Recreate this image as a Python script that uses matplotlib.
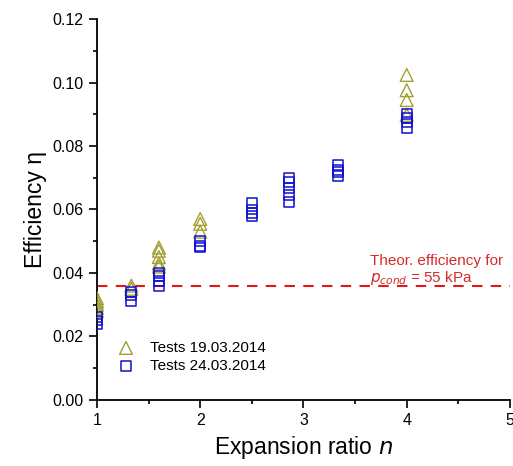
import numpy as np
import matplotlib
matplotlib.use("Agg")
import matplotlib.pyplot as plt
from matplotlib.ticker import MultipleLocator

plt.rcParams['font.family'] = ['Liberation Sans', 'DejaVu Sans']

# tests 19.03.2014 (triangles)
n_tri = [1, 1, 1, 1, 1, 4/3, 4/3, 1.6, 1.6, 1.6, 1.6, 1.6, 2, 2, 2, 4, 4, 4, 4]
eta_tri = [0.032, 0.031, 0.030, 0.029, 0.028, 0.036, 0.035,
           0.048, 0.047, 0.045, 0.043, 0.042, 0.057, 0.0555, 0.053,
           0.1024, 0.0976, 0.0945, 0.0898]

# tests 24.03.2014 (squares)
n_sq = [1, 1, 1, 4/3, 4/3, 4/3, 1.6, 1.6, 1.6, 1.6, 2, 2, 2,
        2.5, 2.5, 2.5, 2.5, 20/7, 20/7, 20/7, 20/7, 20/7,
        10/3, 10/3, 10/3, 10/3, 4, 4, 4, 4]
eta_sq = [0.026, 0.025, 0.024, 0.034, 0.033, 0.031,
          0.040, 0.039, 0.0375, 0.036, 0.050, 0.0485, 0.048,
          0.062, 0.060, 0.059, 0.058, 0.070, 0.0687, 0.0668, 0.0646, 0.0624,
          0.074, 0.0724, 0.0717, 0.0706, 0.090, 0.0888, 0.0876, 0.0857]

eta_theor = 0.036

fig = plt.figure(figsize=(5.13, 4.66), dpi=100)
ax = fig.add_axes([0.189, 0.142, 0.805, 0.817])

ax.scatter(n_tri, eta_tri, marker='^', s=85, facecolors='none',
           edgecolors='#a3a030', linewidths=1.0, label='Tests 19.03.2014', zorder=3)
ax.scatter(n_sq, eta_sq, marker='s', s=50, facecolors='none',
           edgecolors='#1010d0', linewidths=1.1, label='Tests 24.03.2014', zorder=3)
ax.axhline(eta_theor, color='#e01818', linestyle=(0, (5, 4)), linewidth=1.5, zorder=2)

# annotation for the theoretical line
ax.text(3.64, 0.0425, 'Theor. efficiency for', color='#d42a2a', fontsize=11)
ax.text(3.64, 0.0372, r'$p_{cond}$ = 55 kPa', color='#d42a2a', fontsize=11)

ax.set_xlim(1, 5)
ax.set_ylim(0, 0.12)
ax.xaxis.set_major_locator(MultipleLocator(1))
ax.xaxis.set_minor_locator(MultipleLocator(0.5))
ax.yaxis.set_major_locator(MultipleLocator(0.02))
ax.yaxis.set_minor_locator(MultipleLocator(0.01))
ax.set_yticklabels(['%.2f' % v for v in ax.get_yticks()])
ax.tick_params(which='major', direction='out', length=6, width=1.2, labelsize=11.5)
ax.tick_params(which='minor', direction='out', length=3, width=1.2)
ax.spines['top'].set_visible(False)
ax.spines['right'].set_visible(False)
ax.spines['left'].set_linewidth(1.3)
ax.spines['bottom'].set_linewidth(1.3)

ax.set_xlabel('Expansion ratio $\\it{n}$', fontsize=16.5)
ax.set_ylabel('Efficiency η', fontsize=16.5)

ax.legend(loc='lower left', bbox_to_anchor=(0.0, 0.035), frameon=False,
          fontsize=11, handletextpad=0.6, borderaxespad=0.5, labelspacing=0.25)

fig.savefig('out.png', dpi=100)
